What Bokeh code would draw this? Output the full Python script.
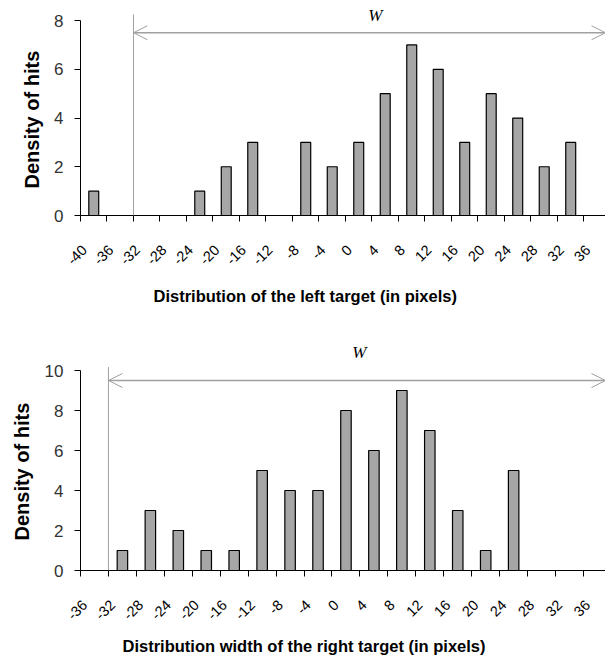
import math
from bokeh.plotting import figure
from bokeh.models import FixedTicker, Arrow, OpenHead, Label, ColumnDataSource, Range1d, Title
from bokeh.layouts import column
from bokeh.embed import file_html
from bokeh.resources import INLINE

# ---- data ----
left_bins = [-40, -36, -32, -28, -24, -20, -16, -12, -8, -4, 0, 4, 8, 12, 16, 20, 24, 28, 32, 36]
left_hits = [1, 0, 0, 0, 1, 2, 3, 0, 3, 2, 3, 5, 7, 6, 3, 5, 4, 2, 3, 0]
right_bins = [-36, -32, -28, -24, -20, -16, -12, -8, -4, 0, 4, 8, 12, 16, 20, 24, 28, 32, 36]
right_hits = [0, 1, 3, 2, 1, 1, 5, 4, 4, 8, 6, 9, 7, 3, 1, 5, 0, 0, 0]
left_yticks = [0, 2, 4, 6, 8]
right_yticks = [0, 2, 4, 6, 8, 10]
w_start = -34  # left edge of the W interval (pixels)
left_title = "Distribution of the left target (in pixels)"
right_title = "Distribution width of the right target (in pixels)"
y_title = "Density of hits"

GRAY_LINE = "#a0a0a0"
BAR_FILL = "#a6a6a6"
LABEL_SHIFT = 1.4  # rotated labels end slightly left of the category centre


def make_chart(bins, hits, yticks, ymax, ytop, frame_h, x_end, left_border, top_border,
               bottom_border, arrow_y, vline_top, w_x, w_y, title, title_offset,
               title_standoff, ytitle_offset, ytitle_standoff):
    height = top_border + frame_h + bottom_border
    p = figure(width=605, height=height, output_backend="svg", toolbar_location=None,
               x_range=Range1d(bins[0] - 2, x_end), y_range=Range1d(0, ytop),
               min_border_left=left_border, min_border_right=0,
               min_border_top=top_border, min_border_bottom=bottom_border)
    p.outline_line_color = None
    p.xgrid.visible = False
    p.ygrid.visible = False
    p.background_fill_color = "white"
    p.border_fill_color = "white"

    xs = [b for b, h in zip(bins, hits) if h > 0]
    hs = [h for h in hits if h > 0]
    src = ColumnDataSource(dict(x=xs, top=hs))
    p.vbar(x="x", top="top", bottom=0, width=1.5, source=src,
           fill_color=BAR_FILL, line_color="black", line_width=1.2)

    # x axis: labels near category centres, tick marks at category boundaries
    bounds = [b - 2 for b in bins] + [bins[-1] + 2]
    label_pos = [b - LABEL_SHIFT for b in bins]
    p.xaxis.ticker = FixedTicker(ticks=label_pos, minor_ticks=bounds)
    p.xaxis.major_label_overrides = {lp: str(b) for lp, b in zip(label_pos, bins)}
    p.xaxis.major_label_orientation = math.pi / 4
    p.xaxis.major_tick_line_color = None
    p.xaxis.major_tick_out = 0
    p.xaxis.major_tick_in = 0
    p.xaxis.minor_tick_line_color = "black"
    p.xaxis.minor_tick_out = 6
    p.xaxis.minor_tick_in = 0
    p.xaxis.major_label_standoff = 26
    p.xaxis.major_label_text_font = "Liberation Sans"
    p.xaxis.major_label_text_font_size = "14.5px"
    p.xaxis.major_label_text_color = "black"
    p.xaxis.axis_line_color = "black"

    # y axis
    p.yaxis.ticker = FixedTicker(ticks=yticks)
    p.yaxis.bounds = (0, ymax)
    p.yaxis.minor_tick_line_color = None
    p.yaxis.major_tick_out = 6
    p.yaxis.major_tick_in = 0
    p.yaxis.major_tick_line_color = "black"
    p.yaxis.axis_line_color = "black"
    p.yaxis.major_label_standoff = 11
    p.yaxis.major_label_text_font = "Liberation Sans"
    p.yaxis.major_label_text_font_size = "17px"
    p.yaxis.major_label_text_color = "#333333"
    p.add_layout(Title(text=y_title, align="left", offset=ytitle_offset,
                       standoff=ytitle_standoff, text_font="Liberation Sans",
                       text_font_style="bold", text_font_size="20px",
                       text_color="black"), "left")

    # W interval
    p.add_layout(Arrow(end=None, x_start=w_start, y_start=0, x_end=w_start, y_end=vline_top,
                       line_color=GRAY_LINE, line_width=1))
    p.add_layout(Arrow(start=OpenHead(size=14, line_color=GRAY_LINE, line_width=1),
                       end=OpenHead(size=14, line_color=GRAY_LINE, line_width=1),
                       x_start=w_start, y_start=arrow_y, x_end=x_end, y_end=arrow_y,
                       line_color=GRAY_LINE, line_width=1.5))
    p.add_layout(Label(x=w_x, y=w_y, text="W", text_font="Liberation Serif",
                       text_font_style="italic", text_font_size="17px",
                       text_align="center", text_baseline="middle", text_color="black"))
    p.add_layout(Title(text=title, align="left", offset=title_offset,
                       standoff=title_standoff,
                       text_font="Liberation Sans", text_font_style="bold",
                       text_font_size="16.5px", text_color="black"), "below")
    return p


# top chart: frame 3..215 px, 24.375 px per unit, axis at x=80
p1 = make_chart(left_bins, left_hits, left_yticks, 8, 8.7, 212, 37.25, 80, 3, 120,
                7.5, 8.25, 2.5, 8.2, left_title, 73, 24, 27, 17)
# bottom chart: frame 340..570 px, 20 px per unit, axis at x=78
p2 = make_chart(right_bins, right_hits, right_yticks, 10, 11.5, 230, 37.15, 78, 5, 94,
                9.5, 10.17, 1.9, 10.9, right_title, 42, 15, 30, 17)

layout = column(p1, p2, spacing=0)
open("out.html", "w").write(file_html(layout, INLINE))
